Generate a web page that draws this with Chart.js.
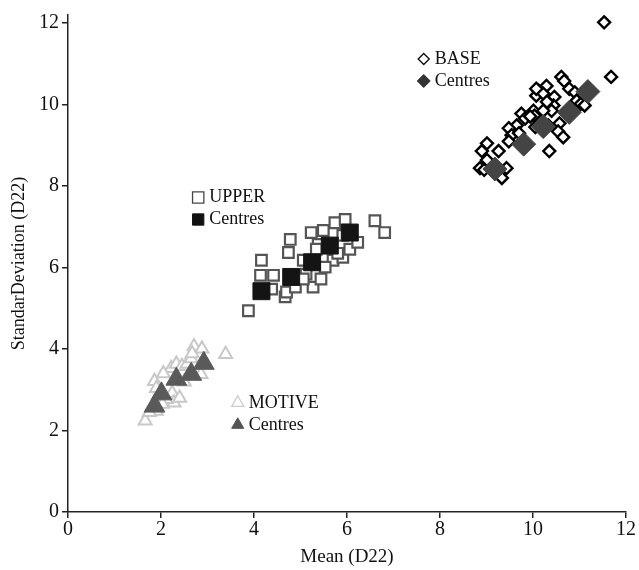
<!DOCTYPE html>
<html>
<head>
<meta charset="utf-8">
<script src="https://cdn.jsdelivr.net/npm/chart.js@4/dist/chart.umd.min.js"></script>
<style>
html,body{margin:0;padding:0;background:#fff;}
#wrap{width:639px;height:570px;}
</style>
</head>
<body>
<div id="wrap"><canvas id="c" width="639" height="570"></canvas></div>
<script>
// ---- data ----
const baseX = [11.53,11.68,10.61,10.67,10.78,10.90,10.29,10.12,10.07,10.22,10.46,10.94,11.03,11.11,10.44,10.30,10.40,10.01,10.03,9.75,9.83,9.94,9.65,9.48,9.54,9.70,9.48,10.33,10.57,10.54,10.65,10.35,9.01,8.90,9.26,9.01,8.86,8.95,9.43,9.33,10.22,10.05,10.07];
const baseY = [12.02,10.68,10.68,10.58,10.39,10.30,10.46,10.34,10.22,10.27,10.19,10.10,10.02,9.98,9.98,10.07,9.85,9.85,9.73,9.78,9.66,9.71,9.49,9.42,9.25,9.30,9.10,9.49,9.54,9.34,9.20,8.86,9.05,8.86,8.86,8.64,8.44,8.40,8.44,8.20,9.85,9.45,10.39];
const baseCX = [9.18,9.80,10.22,10.78,11.18];
const baseCY = [8.42,9.03,9.46,9.81,10.32];

const upperX = [3.88,4.16,4.14,4.42,4.38,4.67,4.70,4.78,4.74,4.89,5.06,5.27,5.23,5.49,5.74,5.96,6.60,6.81,5.12,5.44,5.38,5.70,5.91,6.06,6.23,5.91,5.34,5.06,5.53,5.80];
const upperY = [4.94,6.18,5.81,5.81,5.47,5.28,5.40,6.69,6.37,5.52,6.18,5.52,6.86,6.91,7.10,7.18,7.15,6.86,5.84,5.72,6.57,6.18,6.25,6.45,6.62,6.79,6.45,5.72,6.01,6.35];
const upperCX = [4.16,4.80,5.25,5.63,6.06];
const upperCY = [5.42,5.77,6.13,6.54,6.86];

const motiveX = [1.66,1.90,1.86,1.90,2.24,2.28,2.22,2.33,2.45,2.56,2.65,2.71,2.88,2.67,3.39,2.86,2.11,2.03,1.75,2.05,2.50,2.40];
const motiveY = [2.24,2.48,3.21,3.04,2.92,2.68,3.53,3.63,3.58,3.63,3.77,4.06,4.01,3.89,3.87,3.38,2.77,2.65,2.45,3.40,3.20,2.80];
const motiveCX = [1.86,2.01,2.33,2.65,2.92];
const motiveCY = [2.60,2.90,3.26,3.38,3.65];

const xTicks = [0,2,4,6,8,10,12];
const yTicks = [0,2,4,6,8,10,12];

const xTitle = 'Mean (D22)';
const yTitle = 'StandarDeviation (D22)';
const legendLabels = [['BASE','Centres'],['UPPER','Centres'],['MOTIVE','Centres']];

function pts(xs, ys){ return xs.map((x,i)=>({x:x, y:ys[i]})); }

const SERIF = '"Liberation Serif", "DejaVu Serif", serif';

const styles = {
  baseH:   {pointStyle:'rectRot', radius:6,  bg:'#ffffff', border:'#000000', bw:2.4},
  baseC:   {pointStyle:'rectRot', radius:12, bg:'#444444', border:'#444444', bw:1},
  upperH:  {pointStyle:'rect',    radius:7.5,bg:'#ffffff', border:'#555555', bw:2.2},
  upperC:  {pointStyle:'rect',    radius:12, bg:'#141414', border:'#141414', bw:1},
  motiveH: {pointStyle:'triangle',radius:7.5,bg:'#ffffff', border:'#c8c8c8', bw:2},
  motiveC: {pointStyle:'triangle',radius:12, bg:'#5a5a5a', border:'#5a5a5a', bw:1}
};

function ds(label, data, st, order){
  return {label:label, data:data, pointStyle:st.pointStyle, pointRadius:st.radius,
    pointBackgroundColor:st.bg, pointBorderColor:st.border, pointBorderWidth:st.bw,
    showLine:false, order:order};
}

// legend plugin: groups anchored in data coordinates
const legendPlugin = {
  id:'groupLegends',
  afterDatasetsDraw(chart, args, opts){
    const ctx = chart.ctx, xs = chart.scales.x, ys = chart.scales.y;
    ctx.save();
    ctx.font = '18px ' + SERIF;
    ctx.textBaseline = 'middle';
    opts.groups.forEach(g=>{
      const px = xs.getPixelForValue(g.at[0]);
      const py = ys.getPixelForValue(g.at[1]);
      g.rows.forEach((r,i)=>{
        const yy = py + i*opts.rowGap;
        ctx.save();
        ctx.fillStyle = r.bg; ctx.strokeStyle = r.border; ctx.lineWidth = r.bw;
        Chart.helpers.drawPoint(ctx, {pointStyle:r.style, radius:r.radius, rotation:0, borderWidth:r.bw}, px, yy);
        ctx.restore();
        ctx.fillStyle = '#111';
        ctx.fillText(r.text, px + opts.textGap, yy);
      });
    });
    ctx.restore();
  }
};

new Chart(document.getElementById('c'), {
  type:'scatter',
  data:{datasets:[
    ds('BASE', pts(baseX, baseY), styles.baseH, 2),
    ds('BASE Centres', pts(baseCX, baseCY), styles.baseC, 0),
    ds('UPPER', pts(upperX, upperY), styles.upperH, 2),
    ds('UPPER Centres', pts(upperCX, upperCY), styles.upperC, 0),
    ds('MOTIVE', pts(motiveX, motiveY), styles.motiveH, 2),
    ds('MOTIVE Centres', pts(motiveCX, motiveCY), styles.motiveC, 0)
  ]},
  options:{
    responsive:false, animation:false, events:[],
    layout:{padding:{top:0,right:10,bottom:0,left:0}},
    plugins:{
      legend:{display:false}, tooltip:{enabled:false},
      groupLegends:{
        rowGap:22, textGap:11,
        groups:[
          {at:[7.65,11.12], rows:[
            {text:legendLabels[0][0], style:'rectRot', radius:5.5, bg:'#fff', border:'#111', bw:1.4},
            {text:legendLabels[0][1], style:'rectRot', radius:6.5, bg:'#333', border:'#333', bw:1}]},
          {at:[2.80,7.72], rows:[
            {text:legendLabels[1][0], style:'rect', radius:8, bg:'#fff', border:'#444', bw:1.3},
            {text:legendLabels[1][1], style:'rect', radius:8, bg:'#111', border:'#111', bw:1}]},
          {at:[3.65,2.68], rows:[
            {text:legendLabels[2][0], style:'triangle', radius:7, bg:'#fff', border:'#ccc', bw:1.3},
            {text:legendLabels[2][1], style:'triangle', radius:7, bg:'#555', border:'#555', bw:1}]}
        ]
      }
    },
    scales:{
      x:{type:'linear', min:0, max:12,
        afterFit:(s)=>{s.height=58;},
        afterBuildTicks:(s)=>{s.ticks = xTicks.map(v=>({value:v}));},
        grid:{drawOnChartArea:false, drawTicks:true, tickLength:6, color:'#222', lineWidth:1.5},
        border:{display:true, color:'#222', width:1.5},
        ticks:{color:'#111', font:{family:SERIF, size:20}, padding:0, maxRotation:0, includeBounds:false},
        title:{display:true, text:xTitle, color:'#111', font:{family:SERIF, size:19}, padding:{top:0,bottom:2}}
      },
      y:{type:'linear', min:0, max:12.2,
        afterFit:(s)=>{s.width=68;},
        afterBuildTicks:(s)=>{s.ticks = yTicks.map(v=>({value:v}));},
        grid:{drawOnChartArea:false, drawTicks:true, tickLength:6, color:'#222', lineWidth:1.5},
        border:{display:true, color:'#222', width:1.5},
        ticks:{color:'#111', font:{family:SERIF, size:20}, padding:3, includeBounds:false},
        title:{display:true, text:yTitle, color:'#111', font:{family:SERIF, size:18}, padding:{top:8,bottom:0}}
      }
    }
  },
  plugins:[legendPlugin]
});
</script>
</body>
</html>
